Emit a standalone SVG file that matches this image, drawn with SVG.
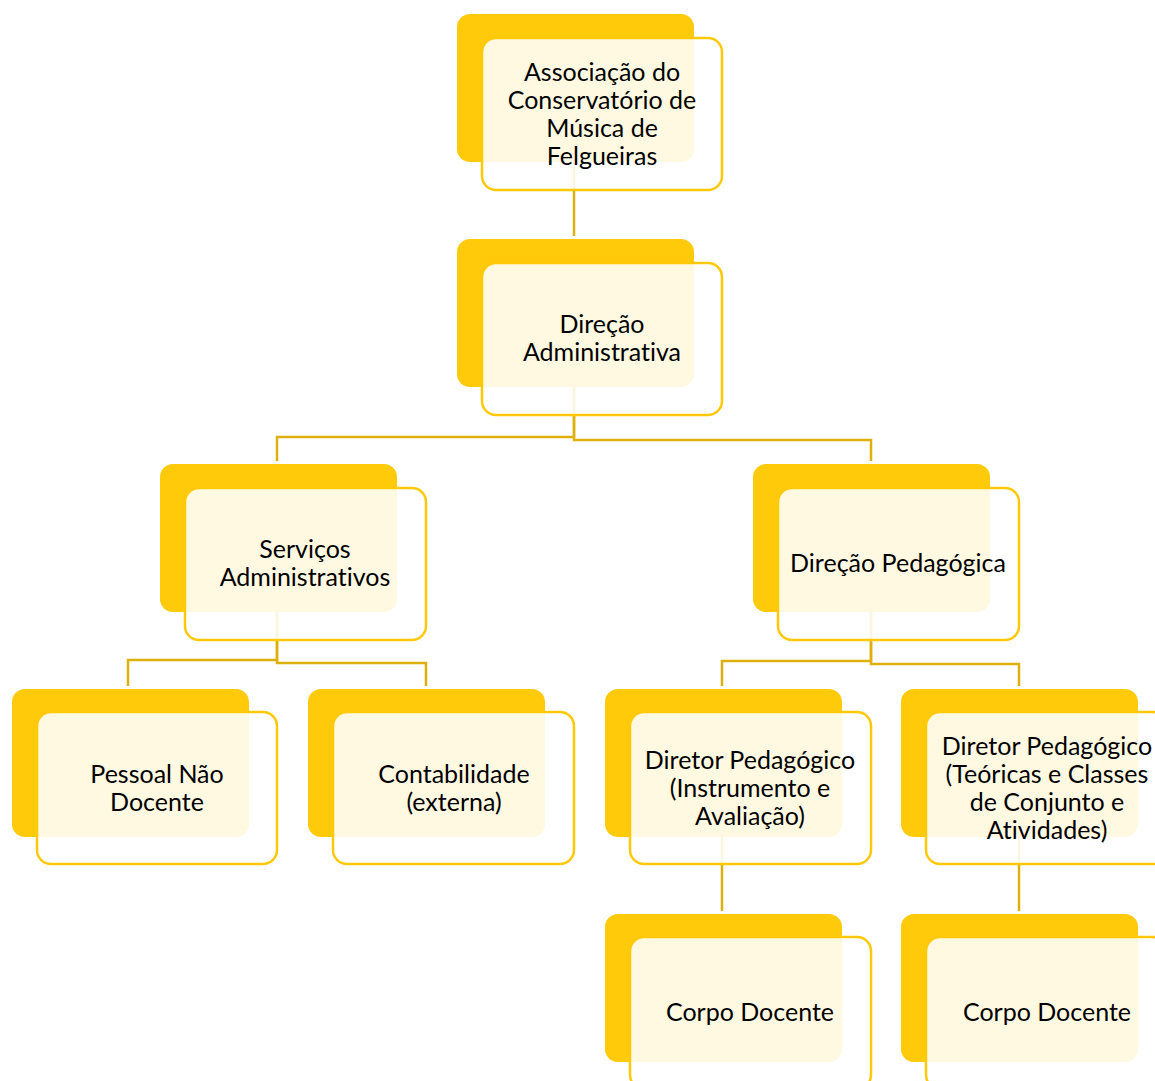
<svg xmlns="http://www.w3.org/2000/svg" width="1155" height="1081" viewBox="0 0 1155 1081">
<style>
.back{fill:#FFCA0A}
.front{fill:#FFFFFF;fill-opacity:0.88;stroke:#FFC90A;stroke-width:2.5}
.conn{fill:none;stroke:#DDB00C;stroke-width:2.5}
text{font-family:Lato,"Liberation Sans",sans-serif;font-size:25px;fill:#000;text-anchor:middle;font-variant-ligatures:none}
</style>
<rect width="1155" height="1081" fill="#FFFFFF"/>
<g id="connectors">
<path class="conn" d="M574 162V236"/>
<path class="conn" d="M574 387V437H277V461"/>
<path class="conn" d="M574 387V440H871V461"/>
<path class="conn" d="M277 612V660H128V686"/>
<path class="conn" d="M277 612V663H426V686"/>
<path class="conn" d="M871 612V661H722V686"/>
<path class="conn" d="M871 612V664H1019V686"/>
<path class="conn" d="M722 837V911"/>
<path class="conn" d="M1019 837V911"/>
</g>
<g id="n-assoc">
<rect class="back" x="457" y="14" width="237" height="148" rx="13"/>
<rect class="front" x="482" y="38" width="240" height="152" rx="14"/>
<text x="602" y="81">Associação do</text>
<text x="602" y="109">Conservatório de</text>
<text x="602" y="137">Música de</text>
<text x="602" y="165">Felgueiras</text>
</g>
<g id="n-diradm">
<rect class="back" x="457" y="239" width="237" height="148" rx="13"/>
<rect class="front" x="482" y="263" width="240" height="152" rx="14"/>
<text x="602" y="333">Direção</text>
<text x="602" y="361">Administrativa</text>
</g>
<g id="n-servadm">
<rect class="back" x="160" y="464" width="237" height="148" rx="13"/>
<rect class="front" x="185" y="488" width="241" height="152" rx="14"/>
<text x="305" y="558">Serviços</text>
<text x="305" y="586">Administrativos</text>
</g>
<g id="n-dirped">
<rect class="back" x="753" y="464" width="237" height="148" rx="13"/>
<rect class="front" x="778" y="488" width="241" height="152" rx="14"/>
<text x="898" y="572">Direção Pedagógica</text>
</g>
<g id="n-pessoal">
<rect class="back" x="12" y="689" width="237" height="148" rx="13"/>
<rect class="front" x="37" y="712" width="240" height="152" rx="14"/>
<text x="157" y="783">Pessoal Não</text>
<text x="157" y="811">Docente</text>
</g>
<g id="n-contab">
<rect class="back" x="308" y="689" width="237" height="148" rx="13"/>
<rect class="front" x="333" y="712" width="241" height="152" rx="14"/>
<text x="454" y="783">Contabilidade</text>
<text x="454" y="811">(externa)</text>
</g>
<g id="n-diretor1">
<rect class="back" x="605" y="689" width="237" height="148" rx="13"/>
<rect class="front" x="630" y="712" width="241" height="152" rx="14"/>
<text x="750" y="769">Diretor Pedagógico</text>
<text x="750" y="797">(Instrumento e</text>
<text x="750" y="825">Avaliação)</text>
</g>
<g id="n-diretor2">
<rect class="back" x="901" y="689" width="237" height="148" rx="13"/>
<rect class="front" x="926" y="712" width="241" height="152" rx="14"/>
<text x="1047" y="755">Diretor Pedagógico</text>
<text x="1047" y="783">(Teóricas e Classes</text>
<text x="1047" y="811">de Conjunto e</text>
<text x="1047" y="839">Atividades)</text>
</g>
<g id="n-corpo1">
<rect class="back" x="605" y="914" width="237" height="148" rx="13"/>
<rect class="front" x="630" y="937" width="241" height="152" rx="14"/>
<text x="750" y="1021">Corpo Docente</text>
</g>
<g id="n-corpo2">
<rect class="back" x="901" y="914" width="237" height="148" rx="13"/>
<rect class="front" x="926" y="937" width="241" height="152" rx="14"/>
<text x="1047" y="1021">Corpo Docente</text>
</g>
</svg>
